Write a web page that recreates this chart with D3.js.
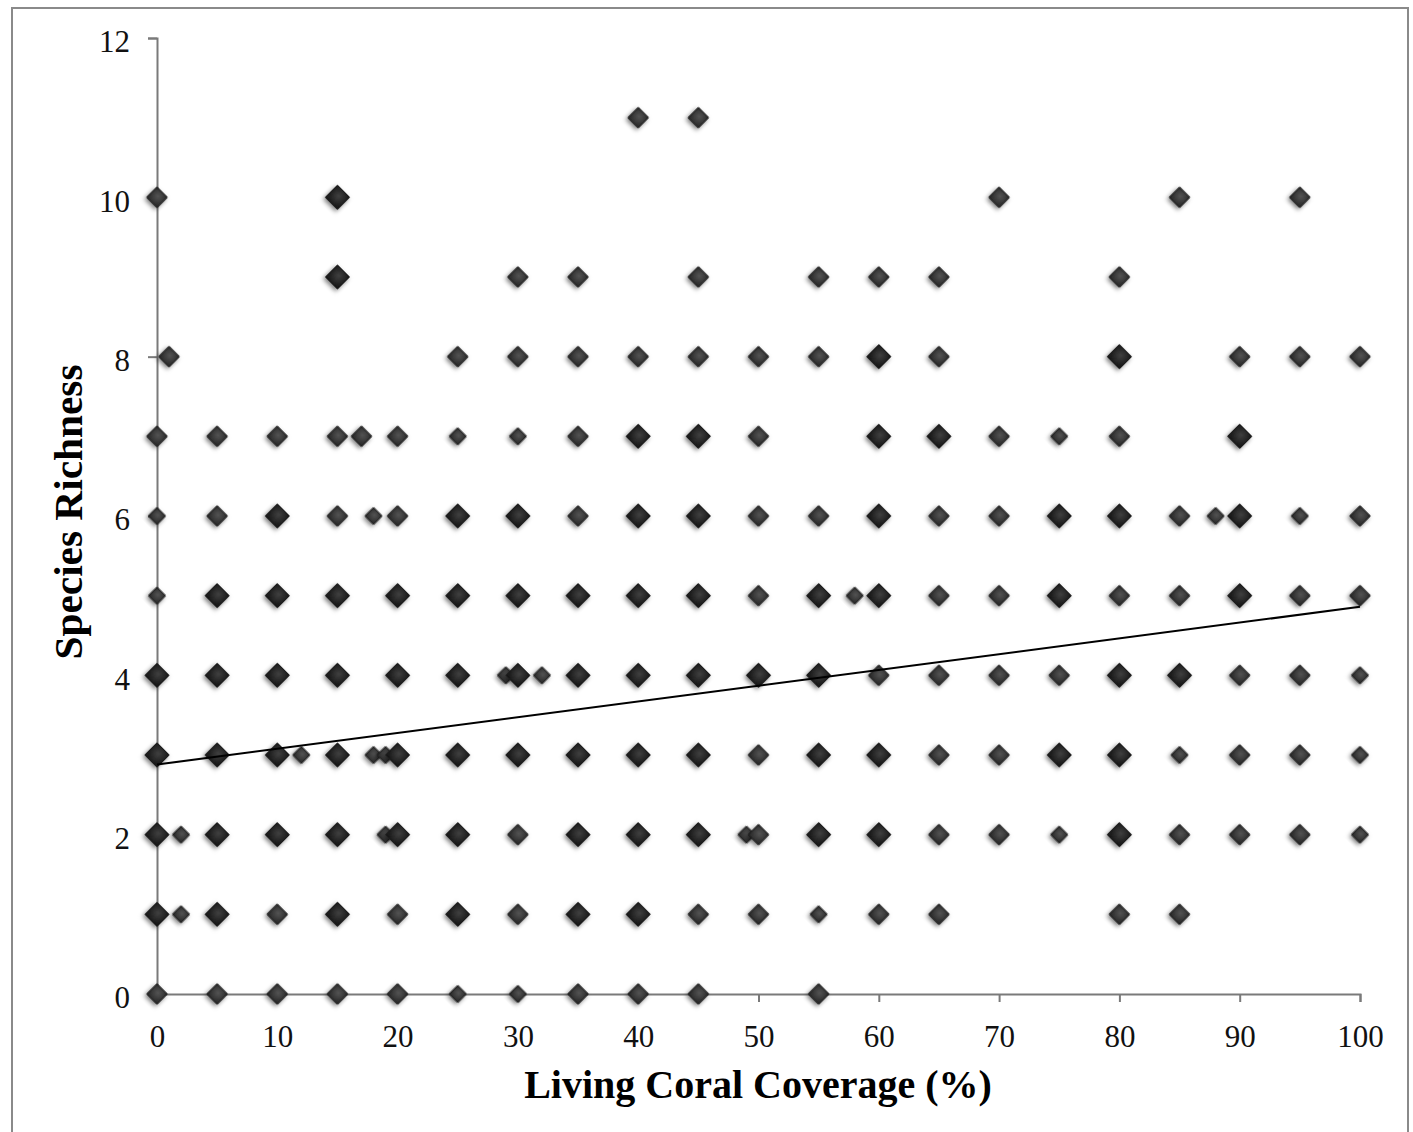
<!DOCTYPE html>
<html>
<head>
<meta charset="utf-8">
<script src="https://cdn.jsdelivr.net/npm/d3@7"></script>
<style>
  html, body { margin: 0; padding: 0; background: #fff; }
  svg { display: block; }
</style>
</head>
<body>
<div id="chart"></div>
<script>
// ---- data: living coral coverage (%) per species-richness level, with estimated overlap (1 = single, 3 = many stacked) ----
const cov11 = [40, 45];                       const n11 = [2, 2];
const cov10 = [0, 15, 70, 85, 95];            const n10 = [2, 3, 2, 2, 2];
const cov9  = [15, 30, 35, 45, 55, 60, 65, 80]; const n9 = [3, 2, 2, 2, 2, 2, 2, 2];
const cov8  = [1, 25, 30, 35, 40, 45, 50, 55, 60, 65, 80, 90, 95, 100];
const n8    = [2, 2, 2, 2, 2, 2, 2, 2, 3, 2, 3, 2, 2, 2];
const cov7  = [0, 5, 10, 15, 17, 20, 25, 30, 35, 40, 45, 50, 60, 65, 70, 75, 80, 90];
const n7    = [2, 2, 2, 2, 2, 2, 1, 1, 2, 3, 3, 2, 3, 3, 2, 1, 2, 3];
const cov6  = [0, 5, 10, 15, 18, 20, 25, 30, 35, 40, 45, 50, 55, 60, 65, 70, 75, 80, 85, 88, 90, 95, 100];
const n6    = [1, 2, 3, 2, 1, 2, 3, 3, 2, 3, 3, 2, 2, 3, 2, 2, 3, 3, 2, 1, 3, 1, 2];
const cov5  = [0, 5, 10, 15, 20, 25, 30, 35, 40, 45, 50, 55, 58, 60, 65, 70, 75, 80, 85, 90, 95, 100];
const n5    = [1, 3, 3, 3, 3, 3, 3, 3, 3, 3, 2, 3, 1, 3, 2, 2, 3, 2, 2, 3, 2, 2];
const cov4  = [0, 5, 10, 15, 20, 25, 29, 30, 32, 35, 40, 45, 50, 55, 60, 65, 70, 75, 80, 85, 90, 95, 100];
const n4    = [3, 3, 3, 3, 3, 3, 1, 3, 1, 3, 3, 3, 3, 3, 2, 2, 2, 2, 3, 3, 2, 2, 1];
const cov3  = [0, 5, 10, 12, 15, 18, 19, 20, 25, 30, 35, 40, 45, 50, 55, 60, 65, 70, 75, 80, 85, 90, 95, 100];
const n3    = [3, 3, 3, 1, 3, 1, 1, 3, 3, 3, 3, 3, 3, 2, 3, 3, 2, 2, 3, 3, 1, 2, 2, 1];
const cov2  = [0, 2, 5, 10, 15, 19, 20, 25, 30, 35, 40, 45, 49, 50, 55, 60, 65, 70, 75, 80, 85, 90, 95, 100];
const n2    = [3, 1, 3, 3, 3, 1, 3, 3, 2, 3, 3, 3, 1, 2, 3, 3, 2, 2, 1, 3, 2, 2, 2, 1];
const cov1  = [0, 2, 5, 10, 15, 20, 25, 30, 35, 40, 45, 50, 55, 60, 65, 80, 85];
const n1    = [3, 1, 3, 2, 3, 2, 3, 2, 3, 3, 2, 2, 1, 2, 2, 2, 2];
const cov0  = [0, 5, 10, 15, 20, 25, 30, 35, 40, 45, 55];
const n0    = [2, 2, 2, 2, 2, 1, 1, 2, 2, 2, 2];

const coverageByLevel = [cov0, cov1, cov2, cov3, cov4, cov5, cov6, cov7, cov8, cov9, cov10, cov11];
const overlapByLevel  = [n0, n1, n2, n3, n4, n5, n6, n7, n8, n9, n10, n11];

// linear trend line
const trendX = [0, 100];
const trendY = [2.88, 4.86];

const xTicks = [0, 10, 20, 30, 40, 50, 60, 70, 80, 90, 100];
const yTicks = [0, 2, 4, 6, 8, 10, 12];
const xTitle = "Living Coral Coverage (%)";
const yTitle = "Species Richness";

// ---- build ----
const W = 1413, H = 1132;
const svg = d3.select("#chart").append("svg").attr("width", W).attr("height", H);

const defs = svg.append("defs");
const grad = defs.append("radialGradient").attr("id", "mk").attr("cx", "50%").attr("cy", "40%").attr("r", "60%");
grad.append("stop").attr("offset", "0%").attr("stop-color", "#535353");
grad.append("stop").attr("offset", "100%").attr("stop-color", "#2e2e2e");
const grad2 = defs.append("radialGradient").attr("id", "mk2").attr("cx", "50%").attr("cy", "40%").attr("r", "60%");
grad2.append("stop").attr("offset", "0%").attr("stop-color", "#404040");
grad2.append("stop").attr("offset", "100%").attr("stop-color", "#1a1a1a");
const filt = defs.append("filter").attr("id", "sh").attr("x", "-50%").attr("y", "-50%").attr("width", "200%").attr("height", "200%");
filt.append("feDropShadow").attr("dx", 0).attr("dy", 2.5).attr("stdDeviation", 2)
  .attr("flood-color", "#000").attr("flood-opacity", 0.5);

svg.append("rect").attr("x", 0).attr("y", 0).attr("width", W).attr("height", H).attr("fill", "#fff");
// outer frame
svg.append("rect").attr("x", 12).attr("y", 8).attr("width", 1396).attr("height", 1140)
  .attr("fill", "none").attr("stroke", "#8a8a8a").attr("stroke-width", 2);

const x = d3.scaleLinear().domain([0, 100]).range([157, 1360]);
const y = d3.scaleLinear().domain([0, 12]).range([994, 38]);

const fontTick = "'Liberation Serif', 'Times New Roman', serif";

// axes
const gx = svg.append("g").attr("transform", `translate(0,${y(0)})`)
  .call(d3.axisBottom(x).tickValues(xTicks).tickSize(8).tickSizeOuter(8).tickPadding(23).tickFormat(d3.format("d")));
const gy = svg.append("g").attr("transform", `translate(${x(0)},0)`)
  .call(d3.axisLeft(y).tickValues(yTicks).tickSize(9).tickSizeOuter(9).tickPadding(18).tickFormat(d3.format("d")));
[gx, gy].forEach(g => {
  g.select(".domain").attr("stroke", "#7a7a7a").attr("stroke-width", 2);
  g.selectAll(".tick line").attr("stroke", "#7a7a7a").attr("stroke-width", 2);
  g.selectAll(".tick text").attr("fill", "#111").attr("font-family", fontTick).attr("font-size", 31);
});
gy.selectAll(".tick text").attr("dy", "0.45em");

// points
const points = [];
coverageByLevel.forEach((arr, lvl) => {
  arr.forEach((c, i) => points.push({ c, r: lvl, n: overlapByLevel[lvl][i] }));
});
points.sort((a, b) => a.n - b.n);
const half = { 1: 8.5, 2: 10.2, 3: 12 };
const sym = d3.symbol().type(d3.symbolSquare);
svg.append("g").selectAll("path").data(points).join("path")
  .attr("d", d => sym.size(2 * half[d.n] * half[d.n])())
  .attr("transform", d => `translate(${x(d.c)},${y(d.r)}) rotate(45)`)
  .attr("fill", d => d.n === 3 ? "url(#mk2)" : "url(#mk)")
  .attr("stroke", "#1c1c1c").attr("stroke-width", 1)
  .attr("filter", "url(#sh)");

// trend line
svg.append("path")
  .datum(trendX.map((v, i) => [v, trendY[i]]))
  .attr("d", d3.line().x(d => x(d[0])).y(d => y(d[1])))
  .attr("fill", "none").attr("stroke", "#000").attr("stroke-width", 2);

// titles
svg.append("text").attr("x", 758).attr("y", 1098).attr("text-anchor", "middle")
  .attr("font-family", fontTick).attr("font-weight", "bold").attr("font-size", 40).attr("fill", "#000")
  .text(xTitle);
svg.append("text").attr("transform", "translate(82,512) rotate(-90)").attr("text-anchor", "middle")
  .attr("font-family", fontTick).attr("font-weight", "bold").attr("font-size", 40).attr("fill", "#000")
  .attr("textLength", 295).attr("lengthAdjust", "spacingAndGlyphs")
  .text(yTitle);
</script>
</body>
</html>
